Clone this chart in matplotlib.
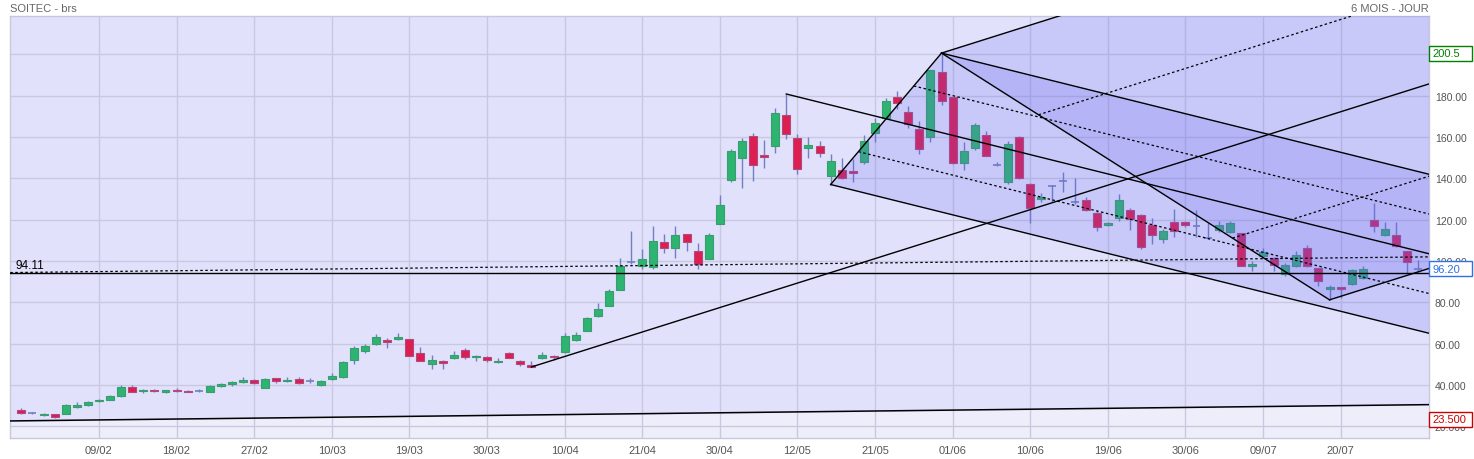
import matplotlib.pyplot as plt
from matplotlib.patches import Polygon, Rectangle
import matplotlib.transforms as mtransforms

plt.rcParams['font.family'] = ['Liberation Sans', 'DejaVu Sans']

# daily OHLC, 127 sessions (index 0 = first candle)
opens = [28.1, 26.5, 25.3, 26.1, 25.8, 29.5, 30.2, 32.1, 32.6, 34.5,
         39.0, 36.9, 37.7, 36.5, 37.8, 37.2, 37.2, 36.6, 39.4, 40.3,
         41.3, 42.6, 38.4, 43.4, 41.8, 43.1, 41.9, 39.8, 42.7, 43.7,
         51.9, 56.3, 59.7, 61.8, 62.4, 62.3, 55.6, 50.0, 51.8, 52.9,
         56.9, 53.4, 53.5, 51.0, 55.6, 51.8, 49.7, 53.2, 54.0, 55.8,
         61.8, 66.1, 73.2, 78.2, 86.0, 99.6, 97.7, 97.1, 109.4, 106.3,
         112.9, 105.0, 101.0, 117.9, 139.2, 149.8, 160.6, 151.5, 155.8, 170.8,
         159.7, 154.5, 155.8, 141.0, 143.9, 143.4, 147.7, 161.8, 169.4, 179.2,
         171.9, 163.7, 159.8, 191.3, 179.2, 147.3, 154.5, 160.8, 146.5, 138.1,
         159.8, 137.2, 130.0, 136.3, 138.4, 128.8, 129.5, 123.4, 117.3, 121.0,
         124.7, 122.3, 117.4, 110.5, 118.9, 118.7, 116.9, 111.2, 115.0, 114.0,
         113.4, 97.4, 102.3, 101.3, 93.5, 97.4, 106.1, 96.5, 86.3, 87.4,
         88.7, 91.9, 120.0, 112.7, 112.7, 104.7, 96.0]
highs = [28.7, 27.1, 26.6, 26.2, 31.0, 31.9, 32.4, 33.1, 35.3, 40.2,
         40.1, 38.2, 37.9, 37.8, 38.7, 37.4, 37.9, 40.0, 41.0, 42.1,
         44.0, 43.1, 43.6, 43.6, 43.9, 43.9, 43.4, 42.3, 45.8, 51.8,
         59.0, 59.7, 64.8, 62.9, 65.3, 62.4, 58.5, 54.7, 52.0, 56.5,
         58.1, 54.4, 54.2, 53.2, 55.8, 52.0, 51.6, 55.8, 54.7, 65.3,
         65.8, 72.7, 79.8, 86.3, 101.3, 114.4, 105.6, 116.8, 112.9, 116.8,
         113.2, 108.5, 113.7, 131.8, 154.0, 159.4, 161.9, 158.4, 173.9, 180.8,
         161.3, 159.8, 158.1, 151.6, 149.8, 149.4, 161.0, 169.4, 178.9, 182.3,
         175.0, 167.7, 192.6, 200.6, 179.5, 157.4, 166.6, 162.9, 148.1, 158.1,
         160.3, 137.5, 132.9, 136.8, 142.9, 140.1, 131.0, 124.8, 118.9, 132.6,
         125.8, 122.6, 120.8, 115.3, 125.3, 119.2, 124.8, 118.2, 119.2, 119.2,
         113.6, 100.0, 106.1, 102.1, 99.0, 104.8, 107.7, 96.8, 88.5, 87.6,
         96.1, 97.4, 128.1, 118.7, 119.0, 105.0, 100.3]
lows = [26.1, 26.1, 25.2, 23.9, 25.8, 29.0, 30.0, 32.0, 32.5, 34.4,
        36.5, 36.0, 36.4, 36.3, 36.8, 36.5, 36.5, 36.5, 39.2, 39.7,
        41.2, 40.6, 38.3, 41.0, 41.6, 40.6, 41.1, 39.3, 42.5, 43.5,
        50.0, 55.6, 59.5, 57.7, 61.9, 53.9, 51.4, 47.9, 47.9, 52.7,
        52.4, 51.4, 51.0, 50.5, 52.9, 49.4, 48.7, 52.6, 52.3, 55.6,
        61.5, 66.0, 72.7, 78.0, 85.8, 98.5, 96.0, 96.0, 103.7, 101.5,
        104.7, 96.0, 100.8, 117.7, 138.2, 135.3, 138.7, 145.0, 152.4, 159.0,
        142.3, 149.7, 150.2, 137.0, 139.6, 138.4, 147.0, 157.7, 168.5, 173.5,
        164.5, 151.6, 157.7, 175.6, 147.0, 144.2, 153.9, 150.6, 145.8, 137.4,
        139.8, 118.4, 128.4, 128.7, 133.2, 127.6, 124.3, 114.4, 117.0, 119.5,
        114.8, 105.6, 108.4, 108.5, 111.5, 116.6, 111.6, 110.8, 113.8, 113.7,
        97.6, 95.0, 101.8, 95.3, 92.5, 97.0, 97.2, 88.1, 81.2, 82.0,
        88.5, 91.5, 113.9, 112.3, 106.8, 94.4, 94.5]
closes = [26.3, 26.6, 26.1, 24.4, 30.5, 30.5, 31.9, 32.9, 34.7, 39.2,
          36.6, 37.7, 36.9, 37.4, 37.0, 36.6, 37.3, 39.7, 40.6, 41.6,
          42.6, 40.8, 42.9, 41.8, 42.6, 40.8, 42.0, 42.1, 44.5, 51.3,
          58.1, 58.9, 63.2, 61.0, 63.4, 54.0, 51.6, 52.3, 50.6, 54.5,
          53.5, 54.2, 51.9, 51.8, 53.1, 50.0, 48.9, 54.7, 53.4, 63.9,
          64.3, 72.3, 76.6, 85.3, 97.7, 99.8, 100.8, 109.5, 106.3, 112.4,
          109.2, 98.5, 112.7, 126.9, 153.4, 157.9, 146.6, 150.5, 171.5, 161.6,
          144.7, 156.0, 152.1, 148.2, 140.0, 142.7, 157.9, 166.6, 177.3, 176.3,
          166.5, 154.0, 192.4, 177.6, 147.3, 153.2, 165.6, 151.0, 146.7, 156.5,
          140.0, 125.5, 131.1, 136.5, 138.6, 128.6, 124.5, 116.5, 118.3, 129.5,
          120.3, 106.9, 112.6, 114.7, 114.5, 117.4, 117.0, 111.4, 117.6, 118.5,
          97.7, 98.3, 104.2, 97.9, 97.9, 102.7, 97.4, 90.2, 87.4, 86.4,
          95.5, 96.1, 116.8, 115.3, 107.1, 99.4, 96.2]

date_pos = [7, 14, 21, 28, 35, 42, 49, 56, 63, 70, 77, 84, 91, 98, 105, 112, 119]
date_labels = ['09/02', '18/02', '27/02', '10/03', '19/03', '30/03', '10/04', '21/04', '30/04',
               '12/05', '21/05', '01/06', '10/06', '19/06', '30/06', '09/07', '20/07']
price_ticks = [20, 40, 60, 80, 100, 120, 140, 160, 180, 200]
# the 200 label sits under the high box in the original
price_labels = ['20.000', '40.000', '60.00', '80.00', '100.00', '120.00', '140.00',
                '160.00', '180.00', '']

# long trend channel (lower line + dotted middle), read at both plot edges
chan_x = [-1, 127]
chan_low = [22.6, 30.5]
chan_mid = [94.4, 102.0]

support = 94.11
last_price = 96.20
box_high, box_low = 200.5, 23.5

# pitchfork pivots (candle index, use high or low)
pf1 = [(46, 'low'), (83, 'high'), (118, 'low')]
pf2 = [(69, 'high'), (73, 'low'), (83, 'high')]

X0, X1 = -1.0, 127.0
Y0, Y1 = 14.2, 218.4

fig = plt.figure(figsize=(14.74, 4.6), dpi=100)
ax = fig.add_axes([10.3 / 1474, 1 - 439.3 / 460, 1419 / 1474, 422 / 460])
ax.set_facecolor('#eeeefa')
ax.set_xlim(X0, X1)
ax.set_ylim(Y0, Y1)

grid_c = '#c8c8e0'
for p in price_ticks:
    ax.axhline(p, color=grid_c, lw=1, zorder=1)
for d in date_pos:
    ax.axvline(d, color=grid_c, lw=1, zorder=1)

# background channel fill
ax.fill_between(chan_x, chan_low, [Y1, Y1], color='#e1e1fc', zorder=0.5)
ax.plot(chan_x, chan_low, color='black', lw=1.1, zorder=4)
ax.plot(chan_x, chan_mid, color='black', lw=0.9, ls=(0, (2, 2)), zorder=4)

# candles
up_c, up_e = '#2eb471', '#3a9d6e'
dn_c, dn_e = '#dc1e50', '#b04a80'
wick_c = '#7080c0'
w = 0.72
for i in range(len(opens)):
    o, h, l, c = opens[i], highs[i], lows[i], closes[i]
    ax.vlines(i, l, h, color=wick_c, lw=1, zorder=2)
    if abs(c - o) < 0.35:
        ax.hlines((o + c) / 2, i - w / 2, i + w / 2, color=wick_c, lw=1.2, zorder=2)
        continue
    if c >= o:
        ax.bar(i, c - o, bottom=o, width=w, color=up_c, edgecolor=up_e, lw=0.8, zorder=2)
    else:
        ax.bar(i, o - c, bottom=c, width=w, color=dn_c, edgecolor=dn_e, lw=0.8, zorder=2)


def pivot(pt):
    i, kind = pt
    return (i, highs[i] if kind == 'high' else lows[i])


def pitchfork(pts):
    (x1, y1), (x2, y2), (x3, y3) = [pivot(p) for p in pts]
    mx, my = (x2 + x3) / 2, (y2 + y3) / 2
    s = (my - y1) / (mx - x1)

    def ext(x, y):
        return [x, X1], [y, y + s * (X1 - x)]

    poly = [(x2, y2), (x3, y3), (X1, y3 + s * (X1 - x3)), (X1, y2 + s * (X1 - x2))]
    ax.add_patch(Polygon(poly, closed=True, facecolor='#6464f0', alpha=0.2,
                         edgecolor='none', zorder=3))
    for x, y in [(x1, y1), (x2, y2), (x3, y3)]:
        xs, ys = ext(x, y)
        ax.plot(xs, ys, color='black', lw=1.0, zorder=4)
    ax.plot([x2, x3], [y2, y3], color='black', lw=1.0, zorder=4)
    for f in (0.25, 0.75):
        xs, ys = ext(x2 + f * (x3 - x2), y2 + f * (y3 - y2))
        ax.plot(xs, ys, color='black', lw=0.9, ls=(0, (2, 2)), zorder=4)


pitchfork(pf1)
pitchfork(pf2)

ax.axhline(support, color='black', lw=1.0, zorder=4)
ax.text(-0.5, support + 1.2, f'{support:.2f}', fontsize=8.5, color='black',
        ha='left', va='bottom', zorder=5)

ax.set_xticks(date_pos)
ax.set_xticklabels(date_labels)
ax.set_yticks(price_ticks)
ax.set_yticklabels(price_labels)
ax.yaxis.tick_right()
ax.tick_params(axis='x', length=0, pad=5, labelsize=8, labelcolor='#555555')
ax.tick_params(axis='y', length=0, pad=4, labelsize=7.5, labelcolor='#555555')
for sp in ax.spines.values():
    sp.set_color('#c8c8dc')
    sp.set_linewidth(1)

# value boxes on the right axis
trans = mtransforms.blended_transform_factory(ax.transAxes, ax.transData)
bw = 43 / 1419
bh = 15 / (422 / (Y1 - Y0))
for val, txt, col in [(box_high, '200.5', '#008000'), (last_price, '96.20', '#2f6fe8'),
                      (box_low, '23.500', '#cc0000')]:
    ax.add_patch(Rectangle((1.0, val - bh / 2), bw, bh, transform=trans, facecolor='white',
                           edgecolor=col, lw=1, clip_on=False, zorder=6))
    ax.text(1.0 + 3 / 1419, val, txt, transform=trans, color=col, fontsize=8,
            ha='left', va='center', clip_on=False, zorder=7)

fig.text(10 / 1474, 1 - 9 / 460, 'SOITEC - brs', color='#666666', fontsize=8,
         ha='left', va='center')
fig.text(1429 / 1474, 1 - 9 / 460, '6 MOIS - JOUR', color='#666666', fontsize=8,
         ha='right', va='center')

fig.savefig('out.png', dpi=100)
